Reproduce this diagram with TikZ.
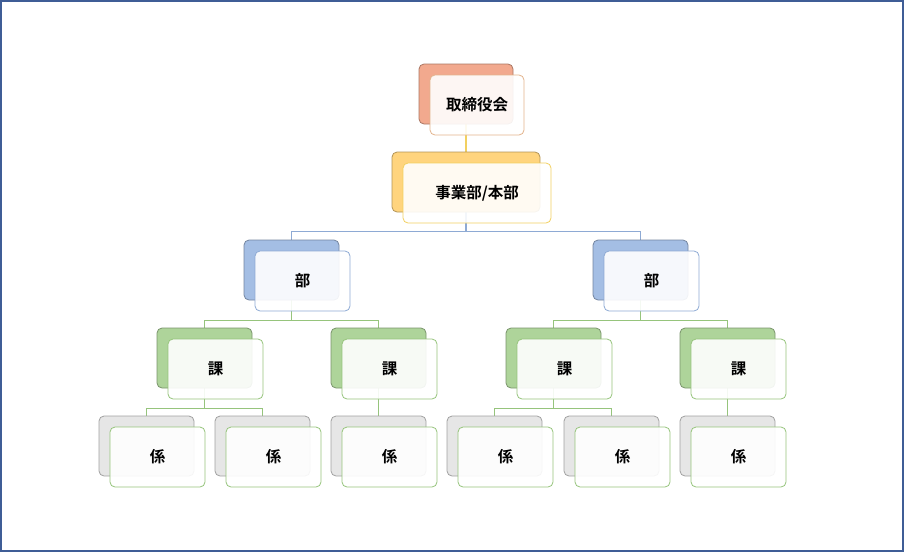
\documentclass[tikz,border=0pt]{standalone}
\usepackage{fontspec}
\newfontfamily\cjk[BoldFont={Noto Sans CJK JP Bold}]{Noto Sans CJK JP}
\usetikzlibrary{backgrounds}

\definecolor{frameblue}{HTML}{3F5D96}
\definecolor{redback}{HTML}{F2A98E}
\definecolor{rededgef}{HTML}{E2B48C}
\definecolor{goldback}{HTML}{FFD47E}
\definecolor{goldedgef}{HTML}{F2D060}
\definecolor{blueback}{HTML}{A4BEE4}
\definecolor{blueedgef}{HTML}{8EAAD4}
\definecolor{greenback}{HTML}{AED49A}
\definecolor{greenedgef}{HTML}{96C47C}
\definecolor{grayback}{HTML}{E6E6E6}

% one unit = back card + front card with the label
\newcommand{\orgunit}[7]{%
  \node[card, minimum width=#4, fill=#5, draw=#5!70!black] (#1) at (#2,#3) {};
  \node[card, minimum width=#4, fill=white, fill opacity=0.9, text opacity=1,
        draw=#6, font=\cjk\bfseries\fontsize{15.5}{18}\selectfont]
    (#1-f) at ([shift={(11,11)}]#1.center) {#7};
}

\begin{document}
\begin{tikzpicture}[x=1pt, y=-1pt,
  card/.style={rectangle, rounded corners=5pt, minimum height=60pt, line width=0.8pt},
  link/.style={line width=1.1pt}]

  % frame
  \draw[frameblue, line width=2pt] (1,1) rectangle (903,551);

  % board and headquarters
  \orgunit{top}{466}{94}{94pt}{redback}{rededgef}{取締役会}
  \orgunit{hq}{466}{182}{148pt}{goldback}{goldedgef}{事業部/本部}

  % departments
  \orgunit{bu1}{291.5}{270}{95pt}{blueback}{blueedgef}{部}
  \orgunit{bu2}{640.5}{270}{95pt}{blueback}{blueedgef}{部}

  % sections
  \foreach \n/\x in {1/204.5, 2/378.5, 3/553.5, 4/727.5}
    \orgunit{ka\n}{\x}{358}{95pt}{greenback}{greenedgef}{課};

  % groups
  \foreach \n/\x in {1/146.5, 2/262.5, 3/378.5, 4/494.5, 5/611.5, 6/727.5}
    \orgunit{kk\n}{\x}{446}{95pt}{grayback}{greenedgef}{係};

  % connectors
  \begin{scope}[on background layer]
    \draw[link, goldedgef] (top.south) -- (hq.north);
    \draw[link, blueedgef] (hq.south) -- ++(0,19) -| (bu1.north);
    \draw[link, blueedgef] (hq.south) -- ++(0,19) -| (bu2.north);
    \draw[link, greenedgef] (bu1.south) -- ++(0,20) -| (ka1.north);
    \draw[link, greenedgef] (bu1.south) -- ++(0,20) -| (ka2.north);
    \draw[link, greenedgef] (bu2.south) -- ++(0,20) -| (ka3.north);
    \draw[link, greenedgef] (bu2.south) -- ++(0,20) -| (ka4.north);
    \draw[link, greenedgef] (ka1.south) -- ++(0,20) -| (kk1.north);
    \draw[link, greenedgef] (ka1.south) -- ++(0,20) -| (kk2.north);
    \draw[link, greenedgef] (ka2.south) -- (kk3.north);
    \draw[link, greenedgef] (ka3.south) -- ++(0,20) -| (kk4.north);
    \draw[link, greenedgef] (ka3.south) -- ++(0,20) -| (kk5.north);
    \draw[link, greenedgef] (ka4.south) -- (kk6.north);
  \end{scope}

\end{tikzpicture}
\end{document}
